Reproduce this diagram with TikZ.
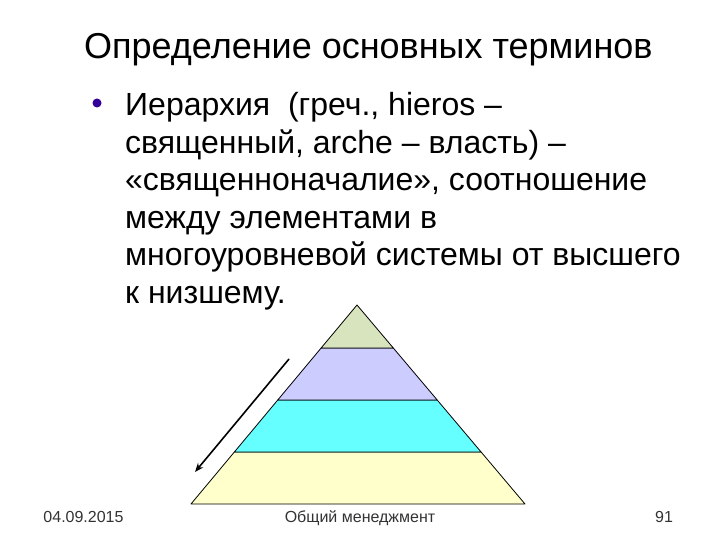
\documentclass[tikz,border=0pt]{standalone}
\usepackage{fontspec}
\setmainfont{Liberation Sans}
\usetikzlibrary{arrows.meta}
\definecolor{lvlA}{HTML}{D7E4BD}
\definecolor{lvlB}{HTML}{CCCCFF}
\definecolor{lvlC}{HTML}{66FFFF}
\definecolor{lvlD}{HTML}{FFFFCC}
\definecolor{bul}{HTML}{330099}
\definecolor{foot}{HTML}{333333}
\tikzset{
  txt/.style={anchor=base west, inner sep=0pt, font=\fontsize{32}{38}\selectfont},
  ttl/.style={anchor=base west, inner sep=0pt, font=\fontsize{36}{42}\selectfont},
  ftr/.style={anchor=base, inner sep=0pt, text=foot, font=\fontsize{16}{18}\selectfont},
  lvl/.style={draw=black, line width=0.8pt, line join=round},
}
\begin{document}
\begin{tikzpicture}[x=1pt,y=-1pt]
\useasboundingbox (0,0) rectangle (720,540);
\fill[white] (0,0) rectangle (720,540);
% title
\node[ttl] (title) at (84,59) {Определение основных терминов};
% bullet
\fill[bul] (97,103) circle (4.5);
\node[txt] (l1) at (125,116) {Иерархия\ \ (греч., hieros –};
\node[txt] (l2) at (125,153.4) {священный, arche – власть) –};
\node[txt] (l3) at (125,190.8) {«священноначалие», соотношение};
\node[txt] (l4) at (125,228.2) {между элементами в};
\node[txt] (l5) at (125,265.6) {многоуровневой системы от высшего};
\node[txt] (l6) at (125,303) {к низшему.};
% pyramid
\coordinate (apex) at (357,305);
\coordinate (bl) at (191,504);
\coordinate (br) at (525,504);
\path (apex) -- (bl) coordinate[pos=0.216] (a1) coordinate[pos=0.477] (b1) coordinate[pos=0.739] (c1);
\path (apex) -- (br) coordinate[pos=0.216] (a2) coordinate[pos=0.477] (b2) coordinate[pos=0.739] (c2);
\filldraw[lvl, fill=lvlD] (c1) -- (bl) -- (br) -- (c2) -- cycle;
\filldraw[lvl, fill=lvlC] (b1) -- (c1) -- (c2) -- (b2) -- cycle;
\filldraw[lvl, fill=lvlB] (a1) -- (b1) -- (b2) -- (a2) -- cycle;
\filldraw[lvl, fill=lvlA] (apex) -- (a1) -- (a2) -- cycle;
% arrow
\coordinate (arS) at (289,359);
\coordinate (arE) at (195,472);
\draw[line width=1.6pt, -{Stealth[length=9pt,width=7pt]}] (arS) -- (arE);
% footer
\node[ftr] (date) at (83.5,522) {04.09.2015};
\node[ftr] (course) at (360,522) {Общий менеджмент};
\node[ftr] (page) at (664,522) {91};
\end{tikzpicture}
\end{document}
